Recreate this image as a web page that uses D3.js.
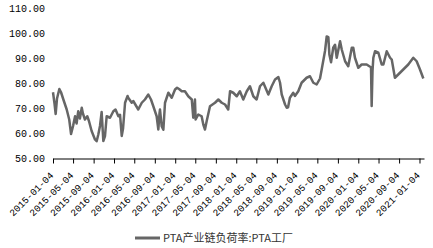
<!DOCTYPE html>
<html><head><meta charset="utf-8">
<script src="https://cdn.jsdelivr.net/npm/d3@7"></script>
<style>body{margin:0;background:#fff}svg{display:block}</style>
</head><body><svg id="c" width="433" height="248"></svg>
<script>
const dates = ["2015-01-04","2015-01-13","2015-01-20","2015-01-28","2015-02-11","2015-02-21","2015-03-07","2015-03-27","2015-04-11","2015-04-22","2015-05-04","2015-05-16","2015-05-25","2015-06-04","2015-06-14","2015-06-25","2015-07-02","2015-07-14","2015-07-28","2015-08-07","2015-08-23","2015-09-12","2015-09-22","2015-10-02","2015-10-12","2015-10-22","2015-11-01","2015-11-11","2015-11-21","2015-12-11","2015-12-31","2016-01-13","2016-01-30","2016-02-09","2016-02-19","2016-02-27","2016-03-10","2016-03-25","2016-03-29","2016-04-19","2016-04-28","2016-05-28","2016-06-18","2016-07-07","2016-07-27","2016-08-12","2016-08-26","2016-09-15","2016-09-25","2016-10-02","2016-10-05","2016-10-15","2016-10-25","2016-11-04","2016-11-24","2016-12-14","2017-01-03","2017-01-15","2017-01-27","2017-02-12","2017-03-03","2017-03-23","2017-04-13","2017-04-22","2017-05-02","2017-05-06","2017-05-22","2017-06-11","2017-06-21","2017-07-01","2017-07-11","2017-07-31","2017-08-30","2017-09-19","2017-10-09","2017-10-29","2017-11-17","2017-11-28","2017-12-17","2018-01-07","2018-01-26","2018-02-15","2018-03-08","2018-03-27","2018-04-16","2018-05-06","2018-05-26","2018-06-15","2018-07-15","2018-08-04","2018-08-24","2018-09-13","2018-09-23","2018-10-03","2018-10-23","2018-11-02","2018-11-10","2018-11-21","2018-12-11","2018-12-21","2019-01-10","2019-01-30","2019-03-01","2019-03-21","2019-04-10","2019-04-30","2019-05-20","2019-05-30","2019-06-19","2019-06-29","2019-07-09","2019-07-15","2019-07-25","2019-08-07","2019-08-18","2019-08-28","2019-09-17","2019-09-27","2019-10-17","2019-11-05","2019-11-26","2019-12-05","2019-12-15","2020-01-04","2020-01-24","2020-02-23","2020-03-10","2020-03-20","2020-03-24","2020-03-29","2020-04-03","2020-04-13","2020-05-03","2020-05-23","2020-06-02","2020-06-22","2020-07-12","2020-07-22","2020-08-10","2020-08-30","2020-09-29","2020-10-29","2020-11-28","2020-12-18","2021-01-07","2021-01-27"];
const values = [76.5,72,67.8,74,77.8,76.5,73.6,69.6,65.6,59.8,63,66.9,64,68.9,66,70.3,68,65.6,66.9,65,61,57.6,56.9,59.6,63,68.6,57,59,66.9,66.3,68.9,69.6,66.9,67.5,59,62,72.3,75,74.3,72.3,73,69.6,72.3,73.6,75.6,73.6,70.9,66.9,61.6,68,69.6,62.9,61.5,72.3,76.3,74.3,77.6,78.3,77.8,76.9,76.9,74.9,73.6,66.3,73.6,65.6,67.6,66.9,63.6,61.6,64.9,70.9,72.3,73.6,72.3,71.6,69.6,76.9,76.3,74.9,76.9,73.6,76.9,78.9,74.9,73.6,78.9,80.3,75.6,78.9,81.6,82.6,80.3,75.6,71.6,70.3,70.5,74.3,76.3,75,76.9,80.3,82.3,82.9,80.3,79.6,82,85.6,93,98.8,98.5,91.6,88.5,94.3,95.5,90.3,96.9,93.6,88.9,86.9,94.3,94.3,90.3,86.3,87.6,87.6,86.9,86.5,71,85,90.3,92.9,92.3,87.6,87.6,92.9,90.3,89.6,82.3,83.6,85.6,87.6,90.3,88.9,85.6,82];
const tickLabels = ["2015-01-04","2015-05-04","2015-09-04","2016-01-04","2016-05-04","2016-09-04","2017-01-04","2017-05-04","2017-09-04","2018-01-04","2018-05-04","2018-09-04","2019-01-04","2019-05-04","2019-09-04","2020-01-04","2020-05-04","2020-09-04","2021-01-04"];
const yTicks = [50,60,70,80,90,100,110];
const seriesName = "PTA产业链负荷率:PTA工厂";

const parse = d3.timeParse("%Y-%m-%d");
const svg = d3.select("#c");
const x = d3.scaleTime().domain([parse("2015-01-04"), parse("2021-01-31")]).range([53, 424]);
const y = d3.scaleLinear().domain([50, 110]).range([158.5, 8.5]);
const font = "'Liberation Mono', monospace";

// y labels
svg.append("g").selectAll("text").data(yTicks).join("text")
  .attr("x", 45).attr("y", d => y(d)).attr("dy", "0.35em")
  .attr("text-anchor", "end").attr("font-family", font).attr("font-size", 10)
  .attr("fill", "#000").text(d => d3.format(".2f")(d));

// x axis
const xa = svg.append("g").attr("transform", "translate(0,158.5)")
  .call(d3.axisBottom(x).tickValues(tickLabels.map(parse)).tickSize(5).tickSizeOuter(0).tickFormat(""));
xa.select(".domain").attr("stroke", "#000");
xa.selectAll(".tick line").attr("stroke", "#000");
svg.append("g").selectAll("text").data(tickLabels).join("text")
  .attr("transform", d => `translate(${x(parse(d)) + 1},176) rotate(-45)`)
  .attr("text-anchor", "end").attr("font-family", font).attr("font-size", 9.6)
  .attr("fill", "#000").text(d => d);

// line
const pts = dates.map((d, i) => ({d: parse(d), v: values[i]}));
svg.append("path").datum(pts)
  .attr("fill", "none").attr("stroke", "#666").attr("stroke-width", 2.5)
  .attr("stroke-linejoin", "round")
  .attr("d", d3.line().x(p => x(p.d)).y(p => y(p.v)));

// legend
svg.append("line").attr("x1", 135).attr("x2", 160).attr("y1", 238).attr("y2", 238)
  .attr("stroke", "#666").attr("stroke-width", 3);
svg.append("text").attr("x", 163).attr("y", 238).attr("dy", "0.35em")
  .attr("font-family", "'Noto Sans CJK SC', sans-serif").attr("font-size", 11)
  .attr("fill", "#333").text(seriesName);
</script></body></html>
